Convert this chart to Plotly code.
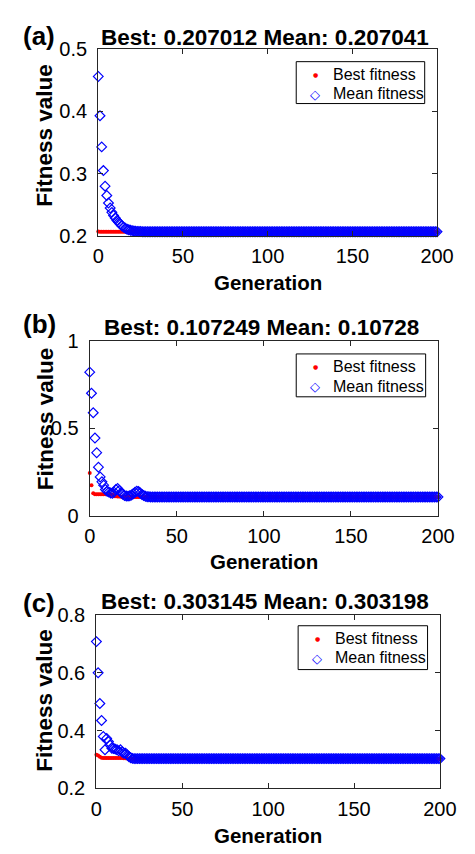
import plotly.graph_objects as go

W, H = 475, 854

# Generation index 0..200
generations = list(range(201))

# ---- Panel (a) ----
mean_a_head = [0.456, 0.393, 0.343, 0.305, 0.280, 0.265, 0.253, 0.245, 0.238, 0.233,
               0.229, 0.225, 0.222, 0.219, 0.216, 0.214, 0.2125, 0.211, 0.2100, 0.2092,
               0.2087, 0.2082, 0.2078, 0.2075, 0.2073, 0.2072]
best_a_head = [0.2072, 0.2071, 0.2071, 0.2070]
mean_a = mean_a_head + [0.207041] * (201 - len(mean_a_head))
best_a = best_a_head + [0.207012] * (201 - len(best_a_head))

# ---- Panel (b) ----
mean_b_head = [0.823, 0.702, 0.590, 0.445, 0.361, 0.278, 0.222, 0.194, 0.175, 0.150,
               0.140, 0.135, 0.130, 0.128, 0.135, 0.150, 0.156, 0.145, 0.132, 0.122,
               0.116, 0.113, 0.112, 0.114, 0.118, 0.126, 0.134, 0.140, 0.138, 0.130,
               0.121, 0.115, 0.111, 0.109, 0.108, 0.1075]
best_b_head = [0.244, 0.175, 0.128, 0.123, 0.123, 0.123, 0.123, 0.123, 0.123, 0.123,
               0.123, 0.123, 0.122, 0.121, 0.112, 0.111, 0.110, 0.110, 0.109, 0.109,
               0.108, 0.108, 0.108, 0.1075]
mean_b = mean_b_head + [0.10728] * (201 - len(mean_b_head))
best_b = best_b_head + [0.107249] * (201 - len(best_b_head))

# ---- Panel (c) ----
mean_c_head = [0.708, 0.600, 0.494, 0.435, 0.380, 0.334, 0.373, 0.362, 0.350, 0.339,
               0.338, 0.336, 0.334, 0.330, 0.334, 0.326, 0.322, 0.322, 0.316, 0.310,
               0.306, 0.304]
best_c_head = [0.317, 0.314, 0.310, 0.306, 0.3056, 0.3056, 0.3055, 0.3055, 0.3054, 0.3054,
               0.3053, 0.3053, 0.3052, 0.3052, 0.3051, 0.3050, 0.3048, 0.3045, 0.3040, 0.3035]
mean_c = mean_c_head + [0.303198] * (201 - len(mean_c_head))
best_c = best_c_head + [0.303145] * (201 - len(best_c_head))

panel_labels = ["(a)", "(b)", "(c)"]
titles = ["Best: 0.207012 Mean: 0.207041",
          "Best: 0.107249 Mean: 0.10728",
          "Best: 0.303145 Mean: 0.303198"]
legend_names = ["Best fitness", "Mean fitness"]
y_ranges = [[0.2, 0.5], [0, 1], [0.2, 0.8]]
y_ticks = [[0.2, 0.3, 0.4, 0.5], [0, 0.5, 1], [0.2, 0.4, 0.6, 0.8]]
y_ticktext = [["0.2", "0.3", "0.4", "0.5"], ["0", "0.5", "1"], ["0.2", "0.4", "0.6", "0.8"]]
x_ticks = [0, 50, 100, 150, 200]
best_series = [best_a, best_b, best_c]
mean_series = [mean_a, mean_b, mean_c]

# plot-area boxes in pixels: left, right, top, bottom
boxes = [(97, 453, 39, 231), (88, 454, 339, 518), (95, 456, 620, 798)]
# legend boxes in pixels: left, right, top, bottom
legend_boxes = [(305, 440, 52, 95), (305, 441, 352, 396), (307, 443, 631, 676)]
# text centre positions
title_y = [27, 325, 606]
label_y = [26, 321, 608]
xtitle_y = [279, 565, 846]
ytitle_y = [128, 419, 708]
ytitle_x = 41

FONT = "Liberation Sans, Arial, sans-serif"
AX_COL = "#262626"


def px(x):
    return x / W


def py(y):
    return 1 - y / H


fig = go.Figure()
annotations = []
shapes = []
layout = dict(
    width=W, height=H,
    margin=dict(l=0, r=0, t=0, b=0),
    paper_bgcolor="white", plot_bgcolor="white",
    font=dict(family=FONT, color="black"),
    showlegend=False,
)


def text(s, x, y, size, bold=False, color="black", angle=0, xanchor="center", family=FONT):
    annotations.append(dict(
        text=("<b>%s</b>" % s) if bold else s, x=px(x), y=py(y),
        xref="paper", yref="paper", xanchor=xanchor, yanchor="middle",
        textangle=angle, showarrow=False,
        font=dict(family=family, size=size, color=color),
    ))


for i in range(3):
    s = "" if i == 0 else str(i + 1)
    xa, ya = "x" + s, "y" + s
    l, r, t, b = boxes[i]

    fig.add_trace(go.Scatter(
        x=generations, y=best_series[i], mode="markers", name=legend_names[0],
        marker=dict(symbol="circle", size=4, color="red", line=dict(width=0)),
        xaxis=xa, yaxis=ya, cliponaxis=False,
    ))
    fig.add_trace(go.Scatter(
        x=generations, y=mean_series[i], mode="markers", name=legend_names[1],
        marker=dict(symbol="diamond-open", size=7.5, color="blue",
                    line=dict(width=1.2, color="blue")),
        xaxis=xa, yaxis=ya, cliponaxis=False,
    ))

    axis_common = dict(
        showline=True, linecolor=AX_COL, linewidth=1.3, mirror="ticks",
        ticks="inside", ticklen=5, tickwidth=1.3, tickcolor=AX_COL,
        showgrid=False, zeroline=False,
        tickfont=dict(family=FONT, size=20, color="black"),
    )
    layout["xaxis" + s] = dict(
        axis_common, domain=[px(l), px(r)], anchor=ya, range=[0, 200],
        tickvals=x_ticks, ticktext=[str(v) for v in x_ticks], ticklabelstandoff=2,
    )
    layout["yaxis" + s] = dict(
        axis_common, domain=[py(b), py(t)], anchor=xa, range=y_ranges[i],
        tickvals=y_ticks[i], ticktext=y_ticktext[i], ticklabelstandoff=6,
    )

    # legend box with symbols and labels
    ll, lr, lt, lb = legend_boxes[i]
    shapes.append(dict(
        type="rect", xref="paper", yref="paper",
        x0=px(ll), x1=px(lr), y0=py(lb), y1=py(lt),
        line=dict(color="black", width=1), fillcolor="white", layer="above",
    ))
    row1, row2 = lt + 13, lt + 33
    text("\u25CF", ll + 20, row1, 6, color="red", family="DejaVu Sans")
    text("\u25C7", ll + 20, row2 + 0.5, 13, color="blue", family="DejaVu Sans")
    text(legend_names[0], ll + 37, row1, 16, xanchor="left")
    text(legend_names[1], ll + 37, row2, 16, xanchor="left")

    cx = (l + r) / 2
    text(titles[i], cx - 3, title_y[i], 22.5, bold=True)
    text(panel_labels[i], 35, label_y[i], 26, bold=True)
    text("Generation", cx, xtitle_y[i], 20.5, bold=True)
    text("Fitness value", ytitle_x, ytitle_y[i], 22.5, bold=True, angle=-90)

layout["annotations"] = annotations
layout["shapes"] = shapes
fig.update_layout(**layout)
fig.write_html("out.html")
